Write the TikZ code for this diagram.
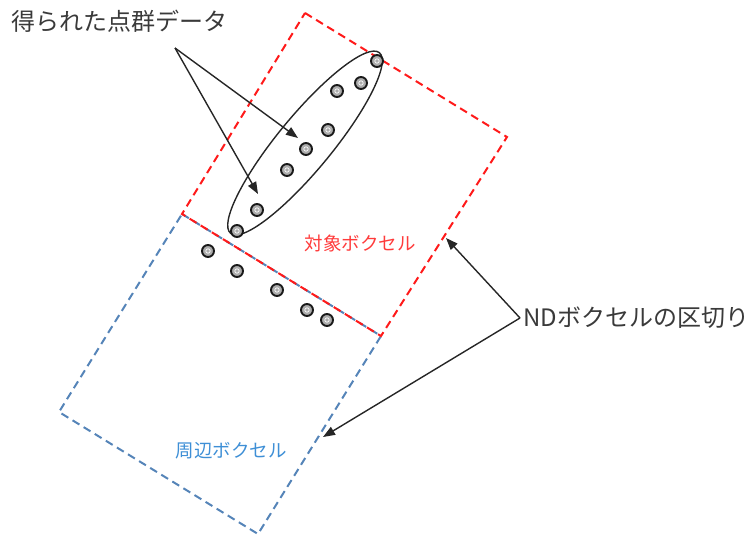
\documentclass[tikz,border=0pt]{standalone}
\usepackage{fontspec}
\setmainfont{Noto Sans CJK JP}
\usetikzlibrary{arrows.meta,shapes.geometric}
\definecolor{vred}{HTML}{FF1A1A}
\definecolor{vredtxt}{HTML}{FF3B3B}
\definecolor{vblue}{HTML}{5584B8}
\definecolor{vbluetxt}{HTML}{3E8FD6}
\definecolor{txtgray}{HTML}{3A3A3A}
\tikzset{
  reddash/.style={draw=vred, line width=2pt, dash pattern=on 8pt off 5pt},
  bluedash/.style={draw=vblue, line width=2pt, dash pattern=on 8pt off 5pt},
  dotpt/.style={circle, inner sep=0pt, minimum size=12pt, fill=gray!65, draw=black!90, line width=1.9pt,
    path picture={\draw[white, line width=0.7pt] (path picture bounding box.center) circle (2.2pt);}},
  callout/.style={draw=black!85, line width=1.4pt, -{Triangle[length=12pt,width=9pt]}},
  lbl/.style={inner sep=0pt, text=txtgray, font=\fontsize{24}{26}\selectfont}
}
\begin{document}
\begin{tikzpicture}[x=1pt,y=-1pt]
\useasboundingbox (0,0) rectangle (755,541);
% surrounding voxel (blue)
\draw[bluedash] (182,214) -- (381,336) -- (258,534) -- (59,412) -- cycle;
% target voxel (red)
\draw[reddash] (305,13) -- (507,137) -- (381,336) -- (182,214) -- cycle;
% labels
\node[text=vredtxt, font=\fontsize{18.5}{20}\selectfont, inner sep=0pt] (target) at (360,243) {対象ボクセル};
\node[text=vbluetxt, font=\fontsize{18.5}{20}\selectfont, inner sep=0pt] (around) at (231,451) {周辺ボクセル};
\node[lbl, anchor=west] (pts) at (11,21) {得られた点群データ};
\node[lbl, anchor=west] (nd) at (523,318) {NDボクセルの区切り};
% ellipse
\node[draw=black!85, line width=1.4pt, ellipse, inner sep=0pt, minimum width=234pt, minimum height=54pt, rotate=50.5] (ell) at (305,143) {};
% points
\node[dotpt] (p1) at (377,61) {};
\node[dotpt] (p2) at (361,83) {};
\node[dotpt] (p3) at (337,91) {};
\node[dotpt] (p4) at (328,130) {};
\node[dotpt] (p5) at (306,149) {};
\node[dotpt] (p6) at (287,170) {};
\node[dotpt] (p7) at (257,210) {};
\node[dotpt] (p8) at (237,231) {};
\node[dotpt] (q1) at (208,251) {};
\node[dotpt] (q2) at (237,271) {};
\node[dotpt] (q3) at (277,290) {};
\node[dotpt] (q4) at (307,310) {};
\node[dotpt] (q5) at (327,320) {};
% callout arrows
\coordinate (ptsfoot) at (175,48);
\coordinate (tipA) at (298,138);
\coordinate (tipB) at (258,194);
\draw[callout] (ptsfoot) -- (tipA);
\draw[callout] (ptsfoot) -- (tipB);
\coordinate (ndfoot) at (520,318);
\coordinate (tipC) at (446,238);
\coordinate (tipD) at (323,437);
\draw[callout] (ndfoot) -- (tipC);
\draw[callout] (ndfoot) -- (tipD);
\end{tikzpicture}
\end{document}
